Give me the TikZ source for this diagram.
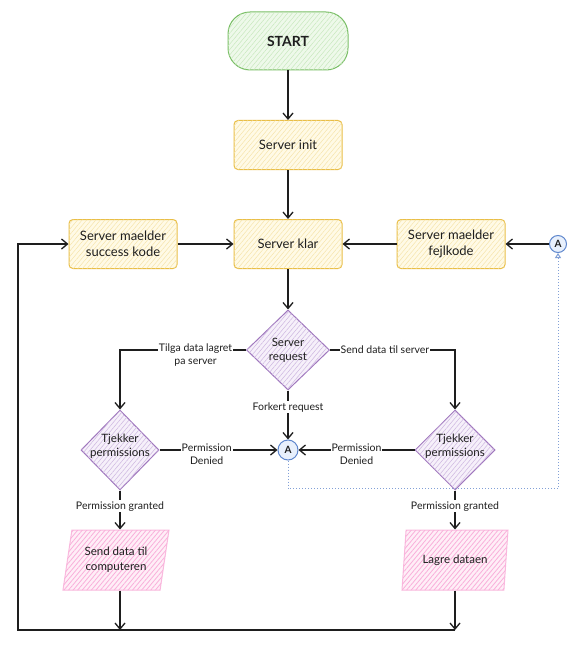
\documentclass[tikz,border=0pt]{standalone}
\usepackage{fontspec}
\setmainfont{Lato}
\usetikzlibrary{shapes.geometric,arrows.meta,patterns.meta}

\definecolor{ink}{RGB}{30,30,30}
\definecolor{grnS}{RGB}{120,190,100}
\definecolor{grnF}{RGB}{238,249,234}
\definecolor{grnH}{RGB}{200,232,190}
\definecolor{ylwS}{RGB}{233,190,70}
\definecolor{ylwF}{RGB}{255,250,230}
\definecolor{ylwH}{RGB}{246,228,170}
\definecolor{purS}{RGB}{160,120,190}
\definecolor{purF}{RGB}{246,240,250}
\definecolor{purH}{RGB}{205,182,224}
\definecolor{pnkS}{RGB}{250,185,222}
\definecolor{pnkF}{RGB}{255,238,247}
\definecolor{pnkH}{RGB}{249,175,218}
\definecolor{bluS}{RGB}{95,135,205}
\definecolor{bluF}{RGB}{232,240,252}
\definecolor{bluD}{RGB}{130,160,215}

\tikzset{
  hatch/.style 2 args={postaction={pattern={Lines[angle=50,distance=3.5pt,line width=#2]},pattern color=#1}},
  base/.style={draw, line width=1pt, text=ink, align=center, font=\fontsize{13}{16}\selectfont},
  startbox/.style={base, draw=grnS, fill=grnF, hatch={grnH}{0.5pt}, rounded corners=22pt,
    minimum width=120pt, minimum height=58pt, font=\bfseries\fontsize{14}{16}\selectfont},
  procbox/.style={base, draw=ylwS, fill=ylwF, hatch={ylwH}{0.5pt}, rounded corners=4pt,
    minimum width=108pt, minimum height=49pt},
  decision/.style={base, diamond, draw=purS, fill=purF, hatch={purH}{0.5pt}, inner sep=0pt,
    minimum width=#1, minimum height=80pt},
  dlabel/.style={text=ink, align=center, font=\fontsize{11.5}{14}\selectfont},
  iobox/.style={base, trapezium, draw=pnkS, fill=pnkF, hatch={pnkH}{0.8pt},
    trapezium left angle=72, trapezium right angle=108, trapezium stretches body,
    minimum width=106pt, minimum height=60pt, inner sep=1pt, font=\fontsize{11.5}{15}\selectfont},
  conn/.style={base, circle, draw=bluS, fill=bluF, minimum size=#1, inner sep=0pt,
    font=\bfseries\fontsize{10}{12}\selectfont},
  arr/.style={draw=ink, line width=1.1pt, -{Straight Barb[length=6pt,width=10pt,line width=1.3pt]}},
  elab/.style={fill=white, text=ink, inner sep=1pt, align=center, font=\fontsize{10.5}{13}\selectfont},
}

\begin{document}
\begin{tikzpicture}[x=1pt,y=-1pt]
  \useasboundingbox[fill=white] (0,0) rectangle (584,650);

  % main column
  \node[startbox] (start) at (288,41) {START};
  \node[procbox] (init) at (288,145) {Server init};
  \node[procbox] (klar) at (288,244) {Server klar};
  \node[procbox] (succ) at (123,244) {Server maelder\\success kode};
  \node[procbox] (fejl) at (451,244) {Server maelder\\fejlkode};
  \node[conn=17pt] (aR) at (558,244) {A};

  % decisions
  \node[decision=83pt] (req) at (288,350) {};
  \node[dlabel] at (req) {Server\\request};
  \node[decision=78pt] (tjL) at (120,450) {};
  \node[dlabel] at ([yshift=4pt]tjL) {Tjekker\\permissions};
  \node[decision=80pt] (tjR) at (455,450) {};
  \node[dlabel] at ([yshift=4pt]tjR) {Tjekker\\permissions};
  \node[conn=20pt] (aM) at (288,450) {A};

  % outputs
  \node[iobox] (outL) at (116,560) {Send data til\\computeren};
  \node[iobox] (outR) at (455,560) {Lagre dataen};

  % loop-back corners
  \coordinate (botL) at (18,630);
  \coordinate (botR) at (455,630);

  % flow
  \draw[arr] (start) -- (init);
  \draw[arr] (init) -- (klar);
  \draw[arr] (succ) -- (klar);
  \draw[arr] (fejl) -- (klar);
  \draw[arr] (aR) -- (fejl);
  \draw[arr] (klar) -- (req);

  \draw[arr] (req.west) -| (tjL.north)
    node[elab, pos=0.2, anchor=north, yshift=7.5pt] {Tilga data lagret\\pa server};
  \draw[arr] (req.east) -| (tjR.north)
    node[elab, pos=0.22] {Send data til server};
  \draw[arr] (req.south) -- (aM.north)
    node[elab, pos=0.34] {Forkert request};

  \draw[arr] (tjL.east) -- (aM.west)
    node[elab, pos=0.4, anchor=north, yshift=7.5pt] {Permission\\Denied};
  \draw[arr] (tjR.west) -- (aM.east)
    node[elab, pos=0.5, anchor=north, yshift=7.5pt] {Permission\\Denied};

  \draw[arr] (tjL.south) -- (outL.north -| tjL.south)
    node[elab, pos=0.4] {Permission granted};
  \draw[arr] (tjR.south) -- (outR.north -| tjR.south)
    node[elab, pos=0.4] {Permission granted};

  \draw[arr] (outL.south -| tjL.south) -- (botL -| tjL.south);
  \draw[arr] (outR.south -| tjR.south) -- (botR);
  \draw[arr] (botR) -- (botL) |- (succ.west);

  % dotted jump from the middle connector to the right one
  \draw[draw=bluD, line width=1pt, dotted, -{Triangle[open,length=5pt,width=6pt]}]
    (aM.south) -- ++(0,28) -| (aR.south);
\end{tikzpicture}
\end{document}
